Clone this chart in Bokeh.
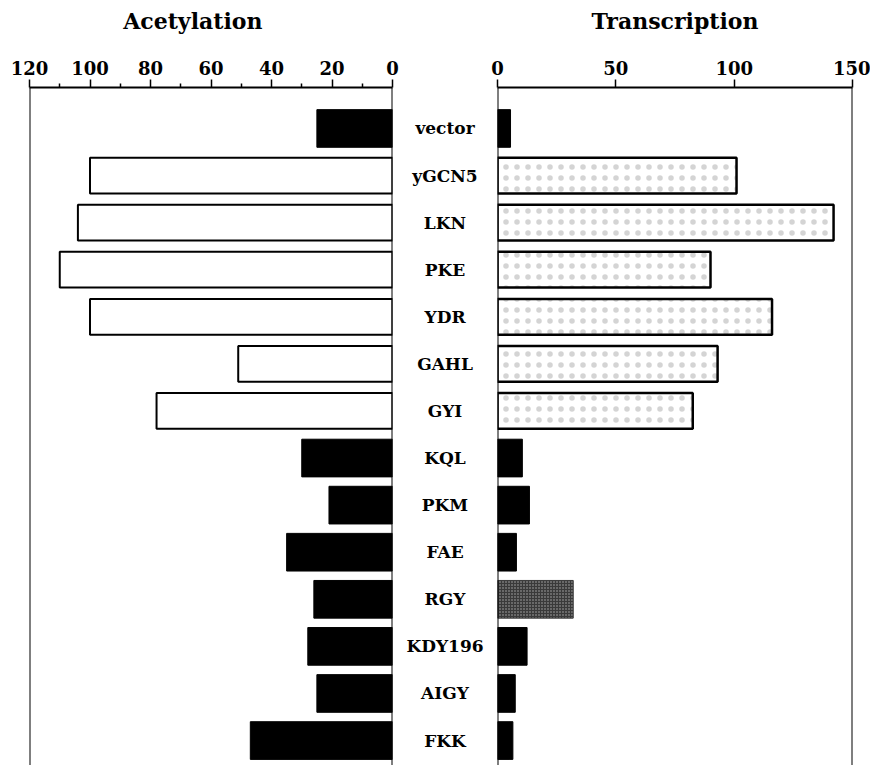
from bokeh.plotting import figure
from bokeh.models import Range1d, FixedTicker, Span
from bokeh.layouts import row, column
from bokeh.embed import file_html
from bokeh.resources import INLINE
from bokeh.core.properties import value

categories = ["vector", "yGCN5", "LKN", "PKE", "YDR", "GAHL", "GYI",
              "KQL", "PKM", "FAE", "RGY", "KDY196", "AIGY", "FKK"]
acetylation = [25, 100, 104, 110, 100, 51, 78, 30, 21, 35, 26, 28, 25, 47]
transcription = [5.5, 101, 142, 90, 116, 93, 82.5, 10.5, 13.5, 8, 32, 12.5, 7.5, 6.5]
acet_style = ["black", "open", "open", "open", "open", "open", "open",
              "black", "black", "black", "black", "black", "black", "black"]
trans_style = ["black", "light", "light", "light", "light", "light", "light",
               "black", "black", "black", "dark", "black", "black", "black"]
acet_ticks = [0, 20, 40, 60, 80, 100, 120]
acet_minor = [10, 30, 50, 70, 90, 110]
trans_ticks = [0, 50, 100, 150]
panel_titles = ["Acetylation", "Transcription"]

FONT = "DejaVu Serif"
TH = 40          # title strip height
H = 725          # main panels height
TOP = 47
yr = Range1d(start=13.53, end=-0.87)
idx = list(range(len(categories)))


def style_axis(ax, minor=True):
    ax.axis_line_width = 2
    ax.major_tick_line_width = 1.5
    ax.major_tick_out = 8
    ax.major_tick_in = 0
    ax.minor_tick_out = 4 if minor else 0
    ax.minor_tick_in = 0
    ax.minor_tick_line_width = 1.5
    ax.major_label_text_font = FONT
    ax.major_label_text_font_style = "bold"
    ax.major_label_text_font_size = "18px"
    ax.major_label_text_color = "black"
    ax.major_label_standoff = 5


def clean(p):
    p.xgrid.visible = False
    p.ygrid.visible = False
    p.outline_line_color = None
    p.background_fill_color = "white"
    p.border_fill_color = "white"
    return p


def base_fig(width, xr, bl, br):
    p = figure(width=width, height=H, x_range=xr, y_range=yr,
               output_backend="svg", toolbar_location=None,
               x_axis_location="above", min_border_top=TOP, min_border_bottom=0,
               min_border_left=bl, min_border_right=br)
    p.yaxis.visible = False
    return clean(p)


def title_fig(width, xr, bl, br, text, x):
    t = figure(width=width, height=TH, x_range=xr, y_range=Range1d(-1, 1),
               output_backend="svg", toolbar_location=None,
               min_border_top=0, min_border_bottom=0,
               min_border_left=bl, min_border_right=br)
    t.xaxis.visible = False
    t.yaxis.visible = False
    t.text(x=[x], y=[0], text=[text], text_align="center", text_baseline="middle",
           text_font=value(FONT), text_font_style="bold", text_font_size="22px",
           text_color="black")
    return clean(t)


# ---------- left: acetylation ----------
left_range = Range1d(120, 0)
left = base_fig(400, left_range, 29, 8)
style_axis(left.xaxis[0])
left.xaxis[0].ticker = FixedTicker(ticks=acet_ticks, minor_ticks=acet_minor)
for loc in (120, 0):
    left.add_layout(Span(location=loc, dimension="height", line_color="black", line_width=2))

ab_y = [i for i in idx if acet_style[i] == "black"]
ao_y = [i for i in idx if acet_style[i] == "open"]
left.hbar(y=ab_y, right=[acetylation[i] for i in ab_y], left=0, height=0.8,
          fill_color="black", line_color="black", line_width=1)
left.hbar(y=ao_y, right=[acetylation[i] for i in ao_y], left=0, height=0.76,
          fill_color="white", line_color="black", line_width=2)

# ---------- middle: labels ----------
mid = base_fig(89, Range1d(0, 1), 0, 0)
mid.xaxis.visible = False
mid.text(x=[0.5] * len(categories), y=idx, text=categories,
         text_align="center", text_baseline="middle",
         text_font=value(FONT), text_font_style="bold", text_font_size="17px",
         text_color="black")

# ---------- right: transcription ----------
right_range = Range1d(0, 150)
right = base_fig(381, right_range, 8, 18)
style_axis(right.xaxis[0], minor=False)
right.xaxis[0].ticker = FixedTicker(ticks=trans_ticks, minor_ticks=[])
for loc in (0, 150):
    right.add_layout(Span(location=loc, dimension="height", line_color="black", line_width=2))

tb_y = [i for i in idx if trans_style[i] == "black"]
tl_y = [i for i in idx if trans_style[i] == "light"]
td_y = [i for i in idx if trans_style[i] == "dark"]
right.hbar(y=tb_y, right=[transcription[i] for i in tb_y], left=0, height=0.8,
           fill_color="black", line_color="black", line_width=1)
right.hbar(y=tl_y, right=[transcription[i] for i in tl_y], left=0, height=0.76,
           fill_color="white", line_color="black", line_width=2.5,
           hatch_pattern="dot", hatch_color="#b0b0b0", hatch_scale=11,
           hatch_weight=1, hatch_alpha=0.55)
right.hbar(y=td_y, right=[transcription[i] for i in td_y], left=0, height=0.8,
           fill_color="#3a3a3a", line_color="#3a3a3a", line_width=1,
           hatch_pattern="dot", hatch_color="#bbbbbb", hatch_scale=3,
           hatch_weight=1, hatch_alpha=0.9)

# ---------- title strips ----------
t_left = title_fig(400, left_range, 29, 8, panel_titles[0], 66)
t_mid = clean(figure(width=89, height=TH, output_backend="svg", toolbar_location=None,
                     min_border_top=0, min_border_bottom=0, min_border_left=0, min_border_right=0))
t_mid.axis.visible = False
t_right = title_fig(381, right_range, 8, 18, panel_titles[1], 75)

layout = column(row(t_left, t_mid, t_right), row(left, mid, right))
open("out.html", "w").write(file_html(layout, INLINE))
